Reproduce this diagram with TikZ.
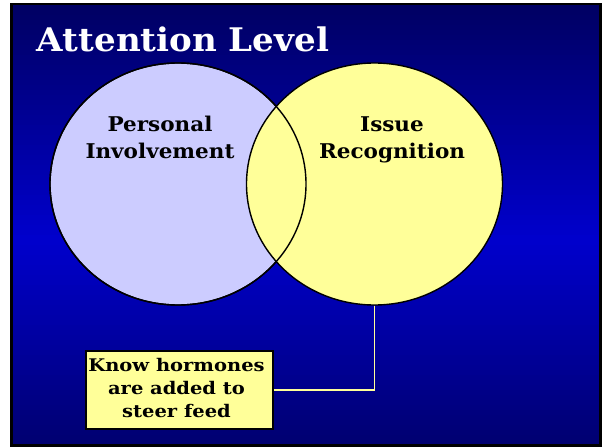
\documentclass[tikz,border=0pt]{standalone}
\usepackage{fontspec}
\setmainfont{DejaVu Serif}
\newfontfamily\titlefont[FakeStretch=1.05]{DejaVu Serif}
\newfontfamily\labelfont[FakeStretch=1.06]{DejaVu Serif}
\newfontfamily\notefont[FakeStretch=1.12]{DejaVu Serif}
\usetikzlibrary{shapes.geometric}
\definecolor{navytop}{RGB}{0,0,100}
\definecolor{navymid}{RGB}{0,0,205}
\definecolor{lavender}{RGB}{204,204,255}
\definecolor{paleyellow}{RGB}{255,255,153}
\tikzset{
  venn/.style={ellipse, draw=black, line width=1.4pt, minimum width=256pt, minimum height=242pt, inner sep=0pt},
  vennlabel/.style={font=\labelfont\bfseries\fontsize{20.3}{26.3}\selectfont, align=center, inner sep=0pt, text=black},
  notebox/.style={draw=black, line width=1.8pt, fill=paleyellow, minimum width=187pt, minimum height=78pt, inner sep=0pt,
    font=\notefont\bfseries\fontsize{17.4}{23}\selectfont, align=center},
  leader/.style={draw=paleyellow, line width=1.6pt},
  titletext/.style={font=\titlefont\bfseries\fontsize{32.5}{36}\selectfont, text=white, inner sep=0pt, anchor=base west}
}
\begin{document}
\begin{tikzpicture}[x=1pt,y=-1pt]
  \useasboundingbox (0,0) rectangle (605,447);
  \fill[white] (0,0) rectangle (605,447);
  \fill[black] (10,2.7) rectangle (602,447);
  \foreach \i in {0,...,87} {
    \pgfmathsetmacro{\ya}{4.8+\i*5}
    \pgfmathsetmacro{\yb}{min(\ya+5.3,444)}
    \pgfmathsetmacro{\p}{max(0,100*(1-abs(\ya+2.5-240)/230))}
    \fill[navymid!\p!navytop] (12.5,\ya) rectangle (598.5,\yb);
  }
  \node[titletext] (title) at (36.7,51.7) {Attention Level};
  \node[venn, fill=lavender] (left) at (178,184) {};
  \node[venn, fill=paleyellow] (right) at (374.5,184) {};
  \node[venn, fill=none] (leftoutline) at (178,184) {};
  \node[vennlabel, anchor=base] (pi) at (160,158) {Personal\\Involvement};
  \node[vennlabel, anchor=base] (ir) at (392,158) {Issue\\Recognition};
  \node[notebox] (note) at (179.5,390) {\hspace*{-6pt}\raisebox{-2pt}{\begin{tabular}{@{}c@{}}Know hormones\\are added to\\steer feed\end{tabular}}};
  \draw[leader] (right.south) |- (note.east);
\end{tikzpicture}
\end{document}
